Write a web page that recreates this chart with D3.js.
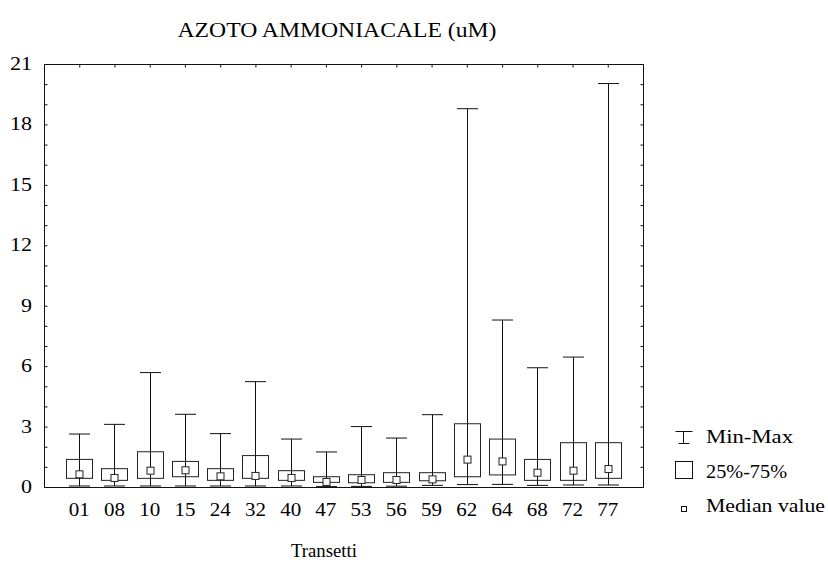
<!DOCTYPE html>
<html>
<head>
<meta charset="utf-8">
<script src="https://cdn.jsdelivr.net/npm/d3@7"></script>
<style>
  html, body { margin: 0; padding: 0; background: #fff; }
  svg { display: block; }
</style>
</head>
<body>
<svg id="chart" width="828" height="565"></svg>
<script>
// Ammonia nitrogen (uM) per transect: min, quartiles, median, max
const categories = ["01","08","10","15","24","32","40","47","53","56","59","62","64","68","72","77"];
const maxV   = [2.63, 3.11, 5.68, 3.61, 2.65, 5.23, 2.38, 1.74, 3.00, 2.43, 3.59, 18.78, 8.29, 5.92, 6.45, 20.03];
const q3V    = [1.37, 0.91, 1.75, 1.27, 0.91, 1.56, 0.81, 0.51, 0.61, 0.71, 0.71, 3.14, 2.38, 1.37, 2.20, 2.20];
const medV   = [0.63, 0.45, 0.81, 0.83, 0.53, 0.55, 0.45, 0.25, 0.35, 0.35, 0.38, 1.36, 1.27, 0.71, 0.81, 0.89];
const q1V    = [0.43, 0.33, 0.43, 0.51, 0.33, 0.43, 0.33, 0.23, 0.21, 0.23, 0.31, 0.51, 0.60, 0.33, 0.33, 0.43];
const minV   = [0.05, 0.05, 0.05, 0.05, 0.05, 0.05, 0.05, 0.02, 0.03, 0.04, 0.08, 0.12, 0.13, 0.08, 0.10, 0.10];
const yTickLabels = [0, 3, 6, 9, 12, 15, 18, 21];

const title = "AZOTO AMMONIACALE (uM)";
const xTitle = "Transetti";
const legendItems = ["Min-Max", "25%-75%", "Median value"];

const FONT = "'Liberation Serif', 'DejaVu Serif', serif";

const svg = d3.select("#chart").attr("font-family", FONT);
const plot = { left: 44, right: 643, top: 64, bottom: 487 };

const x = d3.scaleLinear().domain([0, categories.length + 1]).range([plot.left, plot.right]);
const y = d3.scaleLinear().domain([0, 21]).range([plot.bottom, plot.top]);
const xi = i => x(i + 1);

const ink = "#111";

// helper for stretched serif text
function label(sel, size, width) {
  sel.attr("font-family", FONT).attr("font-size", size).attr("fill", "#000");
  if (width) sel.attr("textLength", width).attr("lengthAdjust", "spacingAndGlyphs");
  return sel;
}

// frame
svg.append("rect")
  .attr("x", plot.left + 0.5).attr("y", plot.top + 0.5)
  .attr("width", plot.right - plot.left).attr("height", plot.bottom - plot.top)
  .attr("fill", "none").attr("stroke", ink).attr("stroke-width", 1);

// y ticks (every unit, inward on both sides) and labels every 3
const yMinor = d3.range(0, 22, 1);
const yAxisL = d3.axisLeft(y).tickValues(yMinor).tickSize(-3).tickFormat("");
const yAxisR = d3.axisRight(y).tickValues(yMinor).tickSize(-3).tickFormat("");
svg.append("g").attr("transform", `translate(${plot.left + 0.5},0)`).call(yAxisL)
  .call(g => g.select(".domain").remove())
  .call(g => g.selectAll("line").attr("stroke", ink));
svg.append("g").attr("transform", `translate(${plot.right + 0.5},0)`).call(yAxisR)
  .call(g => g.select(".domain").remove())
  .call(g => g.selectAll("line").attr("stroke", ink));

svg.append("g").selectAll("text").data(yTickLabels).join("text")
  .attr("x", 32).attr("y", d => y(d) + 6)
  .attr("text-anchor", "end")
  .text(d => d)
  .each(function(d) { label(d3.select(this), 18, String(d).length * 11); });

// x ticks at category positions, inward on top
const xVals = categories.map((c, i) => i + 1);
const xAxisT = d3.axisTop(x).tickValues(xVals).tickSize(-3).tickFormat("");
svg.append("g").attr("transform", `translate(0,${plot.top + 0.5})`).call(xAxisT)
  .call(g => g.select(".domain").remove())
  .call(g => g.selectAll("line").attr("stroke", ink));

svg.append("g").selectAll("text").data(categories).join("text")
  .attr("x", (d, i) => xi(i)).attr("y", 516)
  .attr("text-anchor", "middle")
  .text(d => d)
  .each(function() { label(d3.select(this), 18, 21); });

// boxes
const boxW = 26, capW = 21, medS = 7;
const g = svg.append("g");
categories.forEach((c, i) => {
  const cx = Math.round(xi(i)) + 0.5;
  // whisker line min..max
  g.append("line").attr("x1", cx).attr("x2", cx)
    .attr("y1", y(minV[i])).attr("y2", y(maxV[i]))
    .attr("stroke", ink).attr("stroke-width", 1);
  // caps
  [minV[i], maxV[i]].forEach(v => {
    g.append("line").attr("x1", cx - capW / 2).attr("x2", cx + capW / 2)
      .attr("y1", y(v)).attr("y2", y(v))
      .attr("stroke", ink).attr("stroke-width", 1);
  });
  // quartile box
  g.append("rect")
    .attr("x", cx - boxW / 2).attr("y", y(q3V[i]))
    .attr("width", boxW).attr("height", y(q1V[i]) - y(q3V[i]))
    .attr("fill", "none").attr("stroke", "#222").attr("stroke-width", 1);
  // median marker
  g.append("rect")
    .attr("x", cx - medS / 2).attr("y", y(medV[i]) - medS / 2)
    .attr("width", medS).attr("height", medS)
    .attr("fill", "#fff").attr("stroke", "#222").attr("stroke-width", 1);
});

// titles
label(svg.append("text").attr("x", 337).attr("y", 37).attr("text-anchor", "middle").text(title), 21, 319);
label(svg.append("text").attr("x", 324).attr("y", 557).attr("text-anchor", "middle").text(xTitle), 18, 66);

// legend
const lg = svg.append("g");
const lx = 683.5;
// min-max symbol
lg.append("line").attr("x1", lx - 8).attr("x2", lx + 9).attr("y1", 431.5).attr("y2", 431.5).attr("stroke", ink);
lg.append("line").attr("x1", lx).attr("x2", lx).attr("y1", 431.5).attr("y2", 443.5).attr("stroke", ink);
lg.append("line").attr("x1", lx - 5).attr("x2", lx + 6).attr("y1", 443.5).attr("y2", 443.5).attr("stroke", ink);
// box symbol
lg.append("rect").attr("x", 675.5).attr("y", 461.5).attr("width", 17).attr("height", 17)
  .attr("fill", "none").attr("stroke", ink);
// median symbol
lg.append("rect").attr("x", 681.5).attr("y", 506.5).attr("width", 5).attr("height", 5)
  .attr("fill", "#fff").attr("stroke", ink);

const legendY = [443, 478, 512];
const legendW = [87, 81, 119];
lg.selectAll("text.leg").data(legendItems).join("text")
  .attr("class", "leg")
  .attr("x", 706).attr("y", (d, i) => legendY[i])
  .text(d => d)
  .each(function(d, i) { label(d3.select(this), 18, legendW[i]); });
</script>
</body>
</html>
